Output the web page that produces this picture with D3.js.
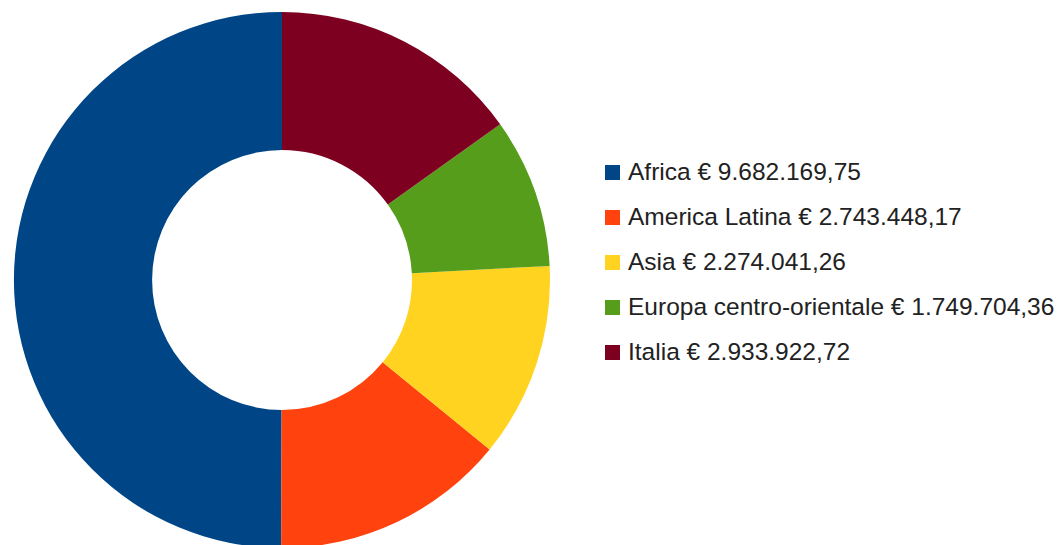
<!DOCTYPE html>
<html lang="it">
<head>
    <meta charset="UTF-8">
    <title>Donut chart</title>
    <script src="https://d3js.org/d3.v7.min.js"></script>
    <style>
        body { margin: 0; background: #fff; }
        svg text { font-family: "Liberation Sans", Arial, sans-serif; }
    </style>
</head>
<body>
    <script>
        const w = 1060;
        const h = 545;

        const regions = ["Africa", "America Latina", "Asia", "Europa centro-orientale", "Italia"];
        const amounts = [9682169.75, 2743448.17, 2274041.26, 1749704.36, 2933922.72];
        const amountLabels = ["9.682.169,75", "2.743.448,17", "2.274.041,26", "1.749.704,36", "2.933.922,72"];
        const colors = ["#004586", "#ff420e", "#ffd320", "#579d1c", "#7e0021"];

        const svg = d3.select("body")
            .append("svg")
            .attr("width", w)
            .attr("height", h);

        const cx = 282, cy = 280;
        const outerR = 268, innerR = 130;

        const data = regions.map(function(r, i) {
            return { name: r, value: amounts[i], label: amountLabels[i] };
        });

        // counter-clockwise from 12 o'clock, like the original
        const pie = d3.pie()
            .sort(null)
            .value(function(d) { return d.value; })
            .startAngle(0)
            .endAngle(-2 * Math.PI);

        const arc = d3.arc()
            .innerRadius(innerR)
            .outerRadius(outerR);

        const color = d3.scaleOrdinal().domain(regions).range(colors);

        svg.append("g")
            .attr("transform", "translate(" + cx + "," + cy + ")")
            .selectAll("path")
            .data(pie(data))
            .enter()
            .append("path")
            .attr("d", arc)
            .attr("fill", function(d) { return color(d.data.name); });

        // legend, y is the text baseline
        const legendY = d3.scalePoint()
            .domain(regions)
            .range([180, 360]);

        const legend = svg.append("g")
            .selectAll("g")
            .data(data)
            .enter()
            .append("g")
            .attr("transform", function(d) { return "translate(605," + legendY(d.name) + ")"; });

        legend.append("rect")
            .attr("x", 0)
            .attr("y", -15)
            .attr("width", 15)
            .attr("height", 15)
            .attr("fill", function(d) { return color(d.name); });

        legend.append("text")
            .attr("x", 23)
            .attr("y", 0)
            .attr("font-size", 24.5)
            .attr("fill", "#222")
            .text(function(d) { return d.name + " € " + d.label; });
    </script>
</body>
</html>
